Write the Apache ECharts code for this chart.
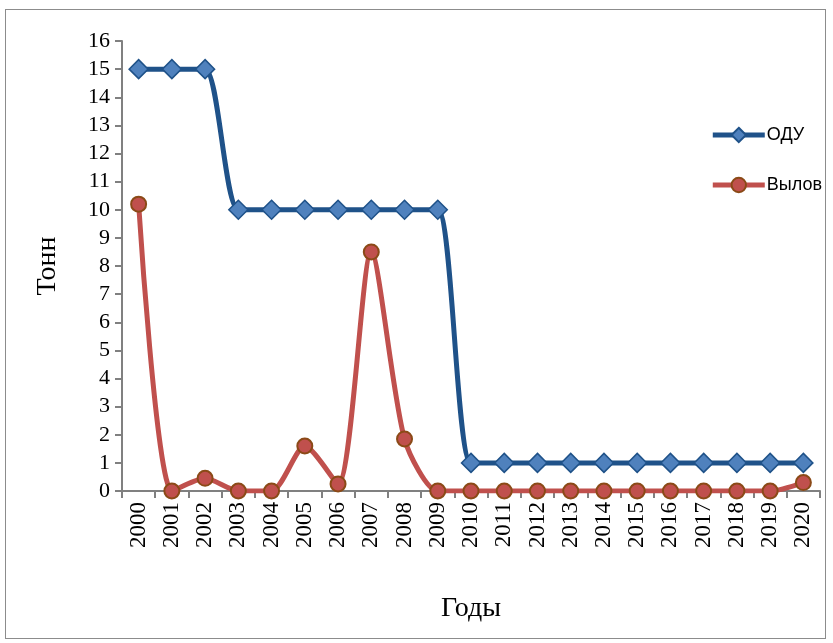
<!DOCTYPE html>
<html>
<head>
<meta charset="utf-8">
<script src="https://cdn.jsdelivr.net/npm/echarts@6/dist/echarts.min.js"></script>
<style>
  html, body { margin: 0; padding: 0; background: #fff; }
  #frame { position: absolute; left: 5px; top: 9px; width: 819px; height: 628px; border: 1px solid #8c8c8c; }
  #chart { position: absolute; left: 0; top: 0; width: 833px; height: 643px; }
</style>
</head>
<body>
<div id="frame"></div>
<div id="chart"></div>
<script>
var years = ['2000','2001','2002','2003','2004','2005','2006','2007','2008','2009','2010',
             '2011','2012','2013','2014','2015','2016','2017','2018','2019','2020'];
var odu = [15, 15, 15, 10, 10, 10, 10, 10, 10, 10, 1, 1, 1, 1, 1, 1, 1, 1, 1, 1, 1];
var vylov = [10.2, 0, 0.45, 0, 0, 1.6, 0.25, 8.5, 1.85, 0, 0, 0, 0, 0, 0, 0, 0, 0, 0, 0, 0.3];

var myChart = echarts.init(document.getElementById('chart'));
var serif = 'Liberation Serif';

var option = {
    animation: false,
    grid: { left: 122, right: 13, top: 41, bottom: 152 },
    legend: {
        orient: 'vertical',
        right: 6,
        top: 121,
        itemGap: 32,
        itemWidth: 52,
        itemHeight: 18,
        lineStyle: { width: 5 },
        textStyle: { fontFamily: 'Liberation Sans', fontSize: 18, color: '#000', padding: [0, 0, 0, -3] },
        data: ['ОДУ', 'Вылов']
    },
    xAxis: {
        type: 'category',
        data: years,
        boundaryGap: true,
        name: 'Годы',
        nameLocation: 'middle',
        nameGap: 104,
        nameTextStyle: { fontFamily: serif, fontSize: 28, color: '#000' },
        axisLine: { lineStyle: { color: '#808080', width: 2 } },
        axisTick: { show: true, interval: 0, length: 7, lineStyle: { color: '#808080', width: 2 } },
        axisLabel: { rotate: 90, interval: 0, margin: 11, fontFamily: serif, fontSize: 23, color: '#000' }
    },
    yAxis: {
        type: 'value',
        min: 0,
        max: 16,
        interval: 1,
        name: 'Тонн',
        nameLocation: 'middle',
        nameGap: 60,
        nameRotate: 90,
        nameTextStyle: { fontFamily: serif, fontSize: 28, color: '#000' },
        splitLine: { show: false },
        axisLine: { show: true, lineStyle: { color: '#808080', width: 2 } },
        axisTick: { show: true, length: 7, lineStyle: { color: '#808080', width: 2 } },
        axisLabel: { margin: 12, fontFamily: serif, fontSize: 22, color: '#000' }
    },
    series: [
        {
            name: 'ОДУ',
            type: 'line',
            data: odu,
            smooth: 0.25,
            symbol: 'diamond',
            symbolSize: 19,
            lineStyle: { color: '#1F5289', width: 5 },
            itemStyle: { color: '#4F81BD', borderColor: '#1F5289', borderWidth: 1.5 },
            z: 3
        },
        {
            name: 'Вылов',
            type: 'line',
            data: vylov,
            smooth: 0.25,
            symbol: 'circle',
            symbolSize: 15,
            lineStyle: { color: '#C0504D', width: 5 },
            itemStyle: { color: '#C0504D', borderColor: '#8B4A17', borderWidth: 2 },
            z: 4
        }
    ]
};
myChart.setOption(option);
</script>
</body>
</html>
